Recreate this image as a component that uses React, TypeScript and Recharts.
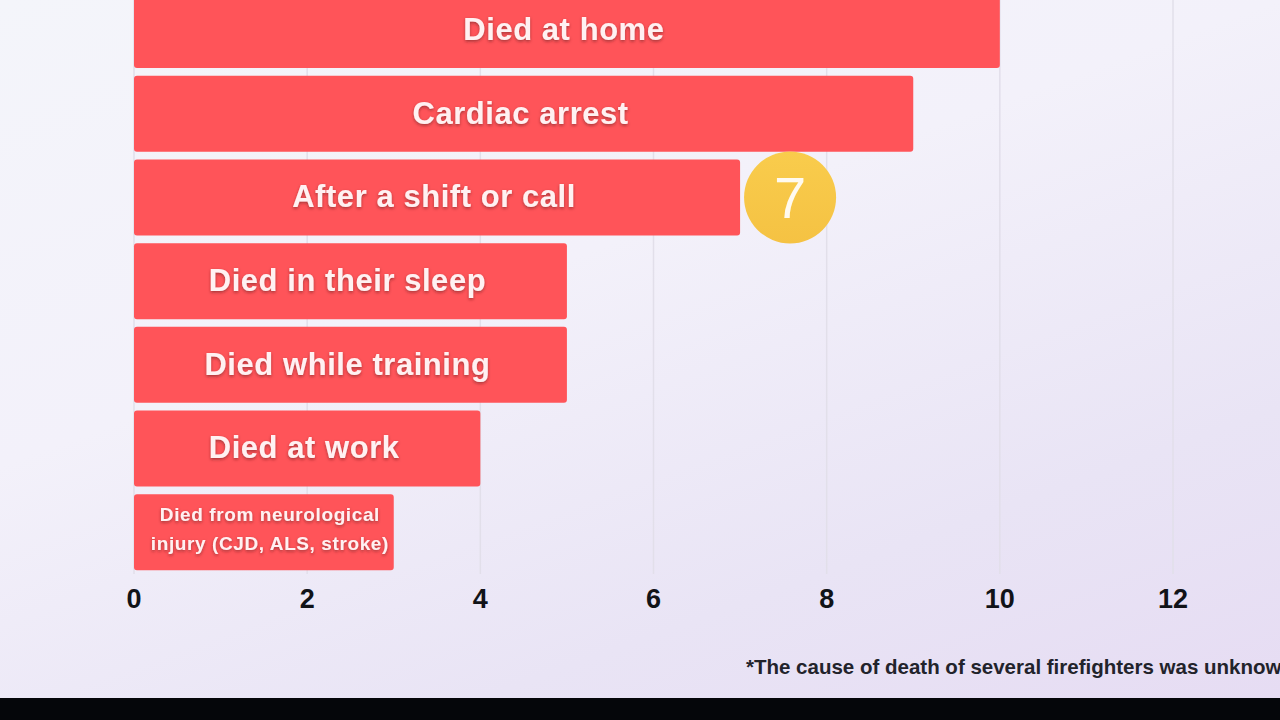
import { Bar, BarChart, CartesianGrid, LabelList, XAxis, YAxis } from "recharts";

// values
const causes = [
  "Died at home",
  "Cardiac arrest",
  "After a shift or call",
  "Died in their sleep",
  "Died while training",
  "Died at work",
  "Died from neurological injury (CJD, ALS, stroke)",
];
const counts = [10, 9, 7, 5, 5, 4, 3];
const badges: (number | null)[] = [null, null, 7, null, null, null, null];
const xTicks = [0, 2, 4, 6, 8, 10, 12];
const footnote = "*The cause of death of several firefighters was unknown.";

const data = causes.map((cause, i) => ({ cause, count: counts[i], badge: badges[i] }));

const FONT = "'Liberation Sans', Arial, Helvetica, sans-serif";

function splitLabel(text: string): string[] {
  if (text.length <= 24) return [text];
  const words = text.split(" ");
  const first: string[] = [];
  while (words.length && (first.join(" ") + " " + words[0]).trim().length <= 22) {
    first.push(words.shift() as string);
  }
  return [first.join(" "), words.join(" ")];
}

function BarText(props: any) {
  const { x, y, width, height, value } = props;
  const lines = splitLabel(String(value));
  const small = lines.length > 1;
  const cx = x + width / 2 + (small ? 6 : -3);
  const cy = y + height / 2 - (small ? 3 : 1);
  const size = small ? 19 : 31;
  const lh = 29;
  return (
    <text
      x={cx}
      y={cy}
      textAnchor="middle"
      fill="#fff1f2"
      fontFamily={FONT}
      fontWeight={700}
      fontSize={size}
      letterSpacing={small ? 0.6 : 0.55}
      filter="url(#txtShadow)"
    >
      {lines.map((l, i) => (
        <tspan key={i} x={cx} y={cy + (i - (lines.length - 1) / 2) * lh} dy="0.35em">
          {l}
        </tspan>
      ))}
    </text>
  );
}

function Badge(props: any) {
  const { x, y, width, height, value } = props;
  if (value == null) return null;
  const cx = x + width + 50;
  const cy = y + height / 2;
  return (
    <g>
      <circle cx={cx} cy={cy} r={46} fill="url(#badgeGrad)" />
      <text
        x={cx}
        y={cy}
        dy="0.36em"
        textAnchor="middle"
        fill="#fffaf0"
        fontFamily={FONT}
        fontWeight={400}
        fontSize={58}
      >
        {value}
      </text>
    </g>
  );
}

function Tick(props: any) {
  const { x, y, payload } = props;
  return (
    <text
      x={x}
      y={y + 26}
      textAnchor="middle"
      fill="#111318"
      fontFamily={FONT}
      fontWeight={700}
      fontSize={27}
    >
      {payload.value}
    </text>
  );
}

export default function App() {
  return (
    <div
      style={{
        position: "absolute",
        top: 0,
        left: 0,
        width: 1280,
        height: 720,
        overflow: "hidden",
        background: "#05060a",
      }}
    >
      <div
        style={{
          position: "absolute",
          top: 0,
          left: 0,
          width: 1280,
          height: 698,
          background:
            "linear-gradient(160deg, #f4f5fa 0%, #f3f1fa 40%, #e9e4f5 75%, #e6dcf3 100%)",
        }}
      />
      <div style={{ position: "absolute", top: -12, left: 0 }}>
        <BarChart
          width={1280}
          height={700}
          data={data}
          layout="vertical"
          margin={{ top: 0, right: 107, bottom: 74, left: 134 }}
          barSize={76}
        >
          <defs>
            <filter id="txtShadow" x="-10%" y="-30%" width="120%" height="160%">
              <feDropShadow dx="0" dy="1.5" stdDeviation="1.5" floodColor="#5a1a1c" floodOpacity="0.55" />
            </filter>
            <linearGradient id="badgeGrad" x1="0" y1="0" x2="0" y2="1">
              <stop offset="0%" stopColor="#f9cc4c" />
              <stop offset="100%" stopColor="#f5c243" />
            </linearGradient>
          </defs>
          <CartesianGrid horizontal={false} stroke="#e2dfea" strokeWidth={1.5} />
          <XAxis
            type="number"
            domain={[0, 12]}
            ticks={xTicks}
            axisLine={false}
            tickLine={false}
            tick={<Tick />}
            height={40}
          />
          <YAxis type="category" dataKey="cause" hide />
          <Bar dataKey="count" fill="#ff5459" radius={3} isAnimationActive={false}>
            <LabelList dataKey="cause" content={<BarText />} />
            <LabelList dataKey="badge" content={<Badge />} />
          </Bar>
        </BarChart>
      </div>
      <div
        style={{
          position: "absolute",
          left: 746,
          top: 655,
          whiteSpace: "nowrap",
          fontFamily: FONT,
          fontWeight: 700,
          fontSize: 20.5,
          color: "#22232b",
        }}
      >
        {footnote}
      </div>
    </div>
  );
}
